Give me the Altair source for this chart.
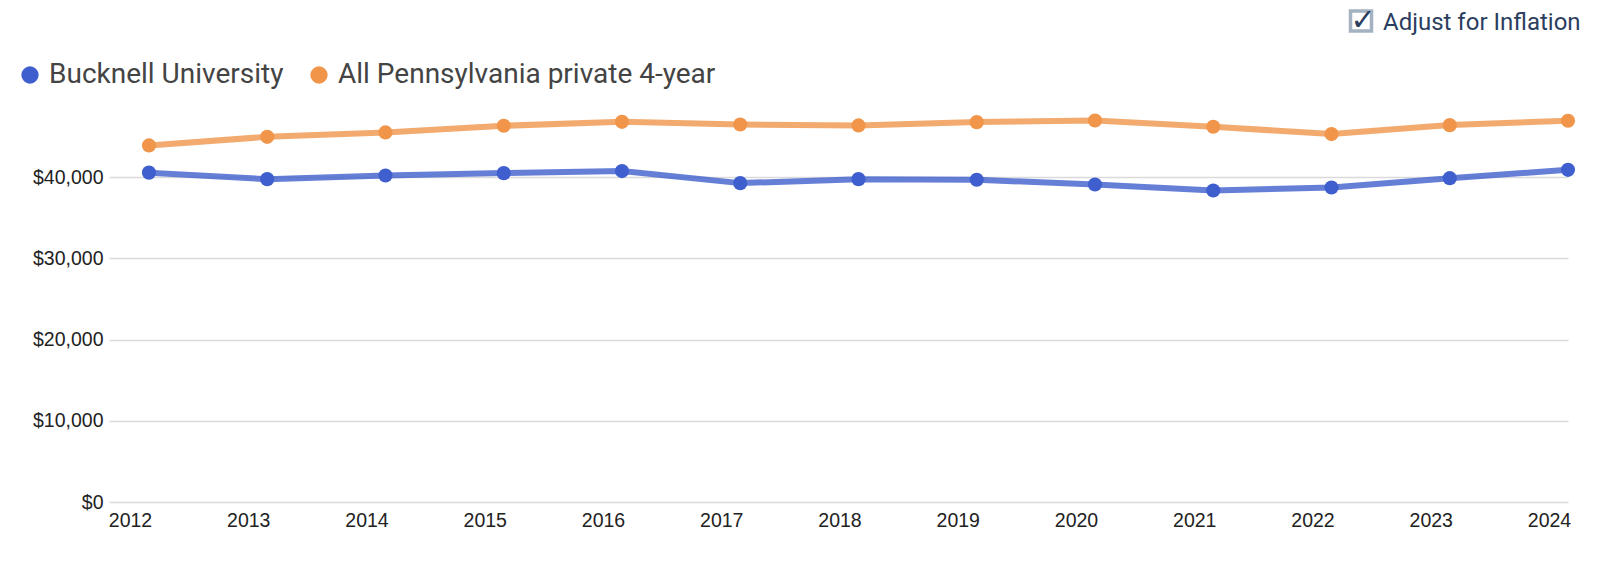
import altair as alt
import pandas as pd

years = list(range(2012, 2025))
bucknell = [40550, 39750, 40200, 40490, 40740, 39260, 39750, 39670, 39090, 38350, 38720, 39870, 40900]
pa_private = [43900, 44960, 45500, 46320, 46810, 46480, 46360, 46770, 46970, 46200, 45300, 46400, 46940]
series_names = ["Bucknell University", "All Pennsylvania private 4-year"]
series_colors = ["#3E5FCD", "#F0954A"]
y_ticks = [0, 10000, 20000, 30000, 40000]
checkbox_label = "Adjust for Inflation"

rows = []
for y, b, p in zip(years, bucknell, pa_private):
    rows.append({"year": y, "series": series_names[0], "value": b})
    rows.append({"year": y, "series": series_names[1], "value": p})
df = pd.DataFrame(rows)

W, H = 1459, 398

x_enc = alt.X("year:Q",
              scale=alt.Scale(domain=[2011.662, 2024], nice=False, zero=False),
              axis=alt.Axis(values=years, format="d", title=None, grid=False,
                            domain=False, ticks=False, tickSize=0,
                            labelFont="Liberation Sans", labelFontSize=19.5,
                            labelColor="#222222", labelPadding=9, labelOffset=-19,
                            labelFlush=False, labelOverlap=False))
y_enc = alt.Y("value:Q",
              scale=alt.Scale(domain=[0, 49000], nice=False, zero=True),
              axis=alt.Axis(values=y_ticks, format="$,.0f", title=None,
                            domain=False, ticks=False, tickSize=0,
                            grid=True, gridColor="#dadada", gridWidth=1.6,
                            labelFont="Liberation Sans", labelFontSize=19.5,
                            labelColor="#222222", labelPadding=6))

base = alt.Chart(df)

lines = base.mark_line(strokeWidth=6, opacity=0.8).encode(
    x=x_enc, y=y_enc,
    stroke=alt.Stroke("series:N", scale=alt.Scale(domain=series_names, range=series_colors),
                      legend=None),
    detail="series:N",
)

points = base.mark_circle(size=201, opacity=1).encode(
    x=x_enc, y=y_enc,
    color=alt.Color("series:N", scale=alt.Scale(domain=series_names, range=series_colors),
                    legend=alt.Legend(title=None, orient="none", direction="horizontal",
                                      legendX=-93, legendY=-43,
                                      symbolType="circle", symbolSize=300,
                                      symbolStrokeWidth=0, symbolOpacity=1,
                                      labelFont="Roboto", labelFontSize=28,
                                      labelColor="#444444", labelOffset=5,
                                      columnPadding=21, labelLimit=700, padding=0)),
)

deco = alt.Chart(pd.DataFrame({"k": [0]}))

box = deco.mark_rect(fill="#ffffff", stroke="#a3b3c2", strokeWidth=3.5).encode(
    x=alt.value(1241.5), x2=alt.value(1262.5),
    y=alt.value(-93), y2=alt.value(-73),
)
check = deco.mark_text(text="✓", font="DejaVu Sans", fontSize=30, fontWeight="bold",
                       color="#2c3e60", align="center", baseline="alphabetic").encode(
    x=alt.value(1254), y=alt.value(-74),
)
label = deco.mark_text(text=checkbox_label, font="Roboto", fontSize=24,
                       color="#2c3e60", align="left", baseline="alphabetic").encode(
    x=alt.value(1274), y=alt.value(-74),
)

chart = alt.layer(lines, points, box, check, label).resolve_scale(
    color="independent", stroke="independent"
).properties(
    width=W, height=H,
    background="#ffffff",
    autosize=alt.AutoSizeParams(type="none"),
    padding={"left": 101, "top": 96, "right": 38, "bottom": 44},
).configure_view(stroke="transparent", strokeWidth=0)

chart.save("out.html", embed_options={"renderer": "svg", "actions": False})
